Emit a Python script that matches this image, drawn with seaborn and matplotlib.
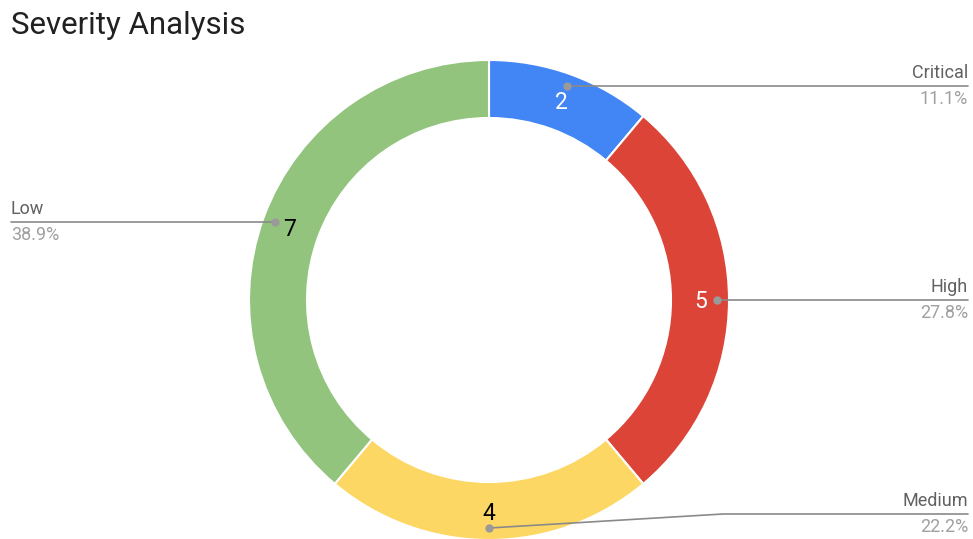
import numpy as np
import matplotlib
matplotlib.use("Agg")
import matplotlib.pyplot as plt
import seaborn as sns

# Severity counts
categories = ["Critical", "High", "Medium", "Low"]
counts = [2, 5, 4, 7]
colors = ["#4285F4", "#DB4437", "#FDD764", "#93C47D"]
value_text_colors = ["white", "white", "black", "black"]

sns.set_theme(style="white")
plt.rcParams["font.family"] = ["Roboto", "DejaVu Sans"]

W, H = 973, 539
fig = plt.figure(figsize=(W / 100, H / 100), dpi=100)
ax = fig.add_axes([0, 0, 1, 1])

cx, cy_px = 489, 300
R, ring = 240, 58


def py(y):
    """Pixel row (from top) to data y."""
    return H - y


wedges, _ = ax.pie(
    counts,
    colors=colors,
    startangle=90,
    counterclock=False,
    radius=R,
    center=(cx, py(cy_px)),
    wedgeprops=dict(width=ring, edgecolor="white", linewidth=1.5),
)
ax.set_xlim(0, W)
ax.set_ylim(0, H)
ax.set_aspect("equal")
ax.axis("off")

total = sum(counts)
cum = np.cumsum([0] + counts)
line_color = "#8a8a8a"
name_color = "#616161"
pct_color = "#a0a0a0"

for i, (cat, val) in enumerate(zip(categories, counts)):
    mid = (cum[i] + val / 2) / total * 2 * np.pi  # clockwise from top
    sx, sy = np.sin(mid), np.cos(mid)
    # dot on the ring and value label just inside it
    dx, dy = cx + 228 * sx, py(cy_px) + 228 * sy
    vx, vy = cx + 212 * sx, py(cy_px) + 212 * sy
    ax.text(vx, vy - 2, f"{val}", color=value_text_colors[i], fontsize=16.5,
            ha="center", va="center")
    ax.plot(dx, dy, "o", color="#9a9a9a", markersize=5, zorder=5)

    right = sx >= -1e-9 if abs(sx) > 1e-6 else True
    if abs(sx) < 1e-6:
        # bottom slice: bend the leader up to a label row
        line_y = py(514)
        ax.plot([dx, 723, 968], [dy, line_y, line_y], color=line_color, lw=1.2)
    elif right:
        line_y = dy
        ax.plot([dx, 968], [line_y, line_y], color=line_color, lw=1.2)
    else:
        line_y = dy
        ax.plot([11, dx], [line_y, line_y], color=line_color, lw=1.2)

    tx = 968 if right else 11
    ha = "right" if right else "left"
    pct = 100 * val / total
    ax.text(tx, line_y + 4, cat, color=name_color, fontsize=13, ha=ha, va="bottom")
    ax.text(tx, line_y - 4, f"{pct:.1f}%", color=pct_color, fontsize=13, ha=ha, va="top")

ax.text(11, py(11), "Severity Analysis", fontsize=22.5, color="#212121",
        ha="left", va="top")

fig.savefig("out.png", dpi=100)
